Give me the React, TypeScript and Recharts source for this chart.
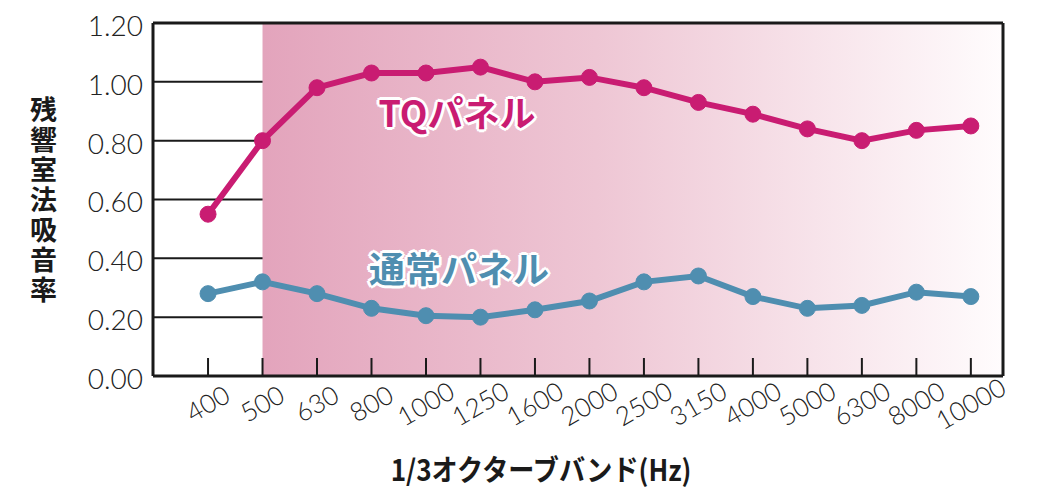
import React from "react";
import {
  CartesianGrid,
  Line,
  LineChart,
  ReferenceArea,
  ReferenceLine,
  XAxis,
  YAxis,
} from "recharts";

const FREQS = ["400", "500", "630", "800", "1000", "1250", "1600", "2000", "2500", "3150", "4000", "5000", "6300", "8000", "10000"];
const TQ_PANEL = [0.55, 0.8, 0.98, 1.03, 1.03, 1.05, 1.0, 1.015, 0.98, 0.93, 0.89, 0.84, 0.8, 0.835, 0.85];
const NORMAL_PANEL = [0.28, 0.32, 0.28, 0.23, 0.205, 0.2, 0.225, 0.255, 0.32, 0.34, 0.27, 0.23, 0.24, 0.285, 0.27];
const Y_TICKS = [0, 0.2, 0.4, 0.6, 0.8, 1.0, 1.2];

const X_MIN = -1.01;
const X_MAX = 14.59;
const SHADE_FROM = 1; // 500 Hz

const data = FREQS.map((f, i) => ({ i, freq: f, tq: TQ_PANEL[i], normal: NORMAL_PANEL[i] }));

const MAGENTA = "#c91c72";
const BLUE = "#4f8eb0";
const NUM_FONT = "Lato, 'Open Sans', sans-serif";
const JP_FONT = "'Noto Sans CJK JP', sans-serif";

function FreqTick(props: any) {
  const { x, y, payload } = props;
  const label = FREQS[payload.value];
  const cy = y + 28;
  return (
    <g>
      <line x1={x} x2={x} y1={y - 18} y2={y} stroke="#1a1a1a" strokeWidth={2} />
      <text
        x={x}
        y={cy + 9}
        textAnchor="middle"
        transform={`rotate(-30 ${x} ${cy})`}
        fontSize={26}
        fontFamily={NUM_FONT}
        fontWeight={300}
        fill="#222"
      >
        {label}
      </text>
    </g>
  );
}

const seriesLabel = (color: string): React.CSSProperties => ({
  position: "absolute",
  fontFamily: JP_FONT,
  fontWeight: 700,
  fontSize: 36,
  lineHeight: "36px",
  color,
  whiteSpace: "nowrap",
  transform: "translateX(-50%)",
  textShadow:
    "2px 0 #fff, -2px 0 #fff, 0 2px #fff, 0 -2px #fff, 2px 2px #fff, -2px -2px #fff, 2px -2px #fff, -2px 2px #fff, 3px 0 #fff, -3px 0 #fff, 0 3px #fff, 0 -3px #fff",
});

export default function App() {
  return (
    <div style={{ position: "absolute", left: 0, top: 0, width: 1040, height: 498, background: "#fff" }}>
      <LineChart width={1040} height={498} data={data} margin={{ top: 23, right: 37, bottom: 62, left: 0 }}>
        <defs>
          <linearGradient id="shade" x1="0" y1="0" x2="1" y2="0">
            <stop offset="0%" stopColor="#e3a4bc" />
            <stop offset="45%" stopColor="#eec6d4" />
            <stop offset="100%" stopColor="#fffcfd" />
          </linearGradient>
        </defs>
        <ReferenceArea x1={SHADE_FROM} x2={X_MAX} y1={0} y2={1.2} fill="url(#shade)" fillOpacity={1} stroke="none" ifOverflow="visible" />
        <CartesianGrid vertical={false} stroke="#1a1a1a" strokeWidth={2} strokeDasharray="" />
        <XAxis
          dataKey="i"
          type="number"
          domain={[X_MIN, X_MAX]}
          ticks={FREQS.map((_, i) => i)}
          allowDataOverflow
          interval={0}
          height={60}
          tickLine={false}
          tickSize={0}
          tickMargin={0}
          axisLine={{ stroke: "#1a1a1a", strokeWidth: 3 }}
          tick={<FreqTick />}
        />
        <YAxis
          domain={[0, 1.2]}
          ticks={Y_TICKS}
          width={153}
          tickLine={false}
          tickSize={0}
          tickMargin={10}
          axisLine={{ stroke: "#1a1a1a", strokeWidth: 3 }}
          tickFormatter={(v: number) => v.toFixed(2)}
          tick={{ fontSize: 28, fontFamily: NUM_FONT, fontWeight: 300, fill: "#222", dy: 3 }}
        />
        <ReferenceLine x={X_MAX} stroke="#1a1a1a" strokeWidth={3} ifOverflow="visible" />
        <ReferenceLine y={1.2} stroke="#1a1a1a" strokeWidth={3} ifOverflow="visible" />
        <Line
          dataKey="tq"
          stroke={MAGENTA}
          strokeWidth={6}
          dot={{ r: 8, fill: MAGENTA, stroke: MAGENTA, strokeWidth: 1 }}
          isAnimationActive={false}
        />
        <Line
          dataKey="normal"
          stroke={BLUE}
          strokeWidth={6}
          dot={{ r: 8, fill: BLUE, stroke: BLUE, strokeWidth: 1 }}
          isAnimationActive={false}
        />
      </LineChart>

      <div style={{ ...seriesLabel(MAGENTA), left: 457, top: 93 }}>TQパネル</div>
      <div style={{ ...seriesLabel(BLUE), left: 459, top: 249 }}>通常パネル</div>

      <div
        style={{
          position: "absolute",
          left: 24,
          top: 96,
          writingMode: "vertical-rl",
          fontFamily: JP_FONT,
          fontWeight: 700,
          fontSize: 27,
          letterSpacing: 3,
          color: "#1a1a1a",
        }}
      >
        残響室法吸音率
      </div>
      <div
        style={{
          position: "absolute",
          left: 541,
          top: 447,
          transform: "translateX(-50%) scaleX(0.9)",
          fontFamily: JP_FONT,
          fontWeight: 700,
          fontSize: 29,
          color: "#1a1a1a",
          whiteSpace: "nowrap",
        }}
      >
        1/3オクターブバンド(Hz)
      </div>
    </div>
  );
}
